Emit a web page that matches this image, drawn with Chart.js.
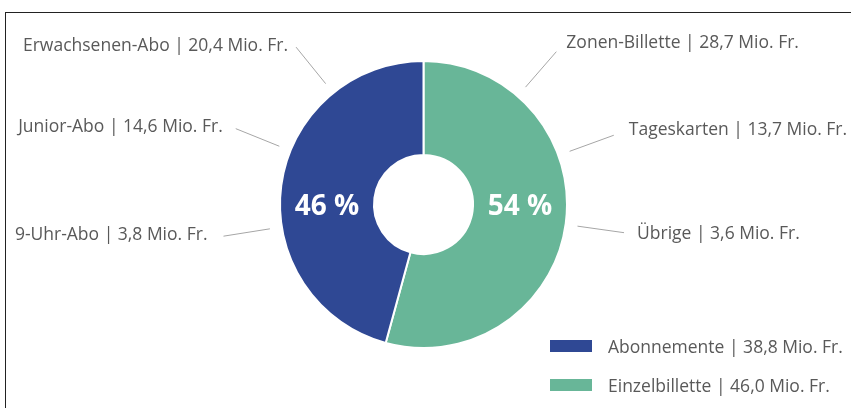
<!DOCTYPE html>
<html lang="de">
<head>
<meta charset="UTF-8">
<title>Einnahmen</title>
<script src="https://cdn.jsdelivr.net/npm/chart.js"></script>
<style>
  body { margin: 0; background: #fff; font-family: "Open Sans", sans-serif; }
  #wrap { position: relative; width: 851px; height: 408px; overflow: hidden; }
  #frame { position: absolute; left: 5px; top: 12px; width: 900px; height: 500px; border: 1.5px solid #222; box-sizing: border-box; }
  canvas { position: absolute; left: 0; top: 0; }
  .leg { position: absolute; left: 550px; font-size: 17.5px; line-height: 24px; color: #595959; white-space: nowrap; }
  .leg span.sw { position: absolute; left: 0; top: 4px; width: 42px; height: 12px; }
  .leg span.tx { position: absolute; left: 58px; top: -2px; }
</style>
</head>
<body>
<div id="wrap">
  <div id="frame"></div>
  <canvas id="c" width="851" height="408"></canvas>
  <div id="legend"></div>
</div>
<script>
// ring: Einzelbillette first so it starts at 12 o'clock
const ringLabels = ['Einzelbillette', 'Abonnemente'];
const ringValues = [46.0, 38.8];
const ringColors = ['#68b698', '#2f4894'];

// sub-items annotated around the ring
const subLabels = ['Zonen-Billette', 'Tageskarten', 'Übrige', 'Erwachsenen-Abo', 'Junior-Abo', '9-Uhr-Abo'];
const subValues = [28.7, 13.7, 3.6, 20.4, 14.6, 3.8];

// legend order
const legendOrder = [1, 0];

function fmt(v) {
  return v.toFixed(1).replace('.', ',') + ' Mio. Fr.';
}

const total = ringValues.reduce((a, b) => a + b, 0);

// where the callouts sit (angle clockwise from top, text nudge)
const callouts = [
  { angle: 41, dx: 10, dy: -9 },
  { angle: 70, dx: 15, dy: -5 },
  { angle: 98, dx: 13, dy: 1 },
  { angle: 321, dx: -8, dy: -1 },
  { angle: 292, dx: -13, dy: -2 },
  { angle: 261, dx: -16, dy: -1 }
];

const ringText = {
  id: 'ringText',
  afterDraw(chart) {
    const ctx = chart.ctx;
    const arc = chart.getDatasetMeta(0).data[0];
    const cx = arc.x, cy = arc.y;
    const R = arc.outerRadius, r = arc.innerRadius;
    const mid = (R + r) / 2;

    ctx.save();
    // percentages inside the ring
    ctx.fillStyle = '#fff';
    ctx.font = 'bold 28px "Open Sans"';
    ctx.textAlign = 'center';
    ctx.textBaseline = 'middle';
    ringValues.forEach((v, i) => {
      const meta = chart.getDatasetMeta(0).data[i];
      const a = (meta.startAngle + meta.endAngle) / 2;
      const side = Math.cos(a) >= 0 ? 1 : -1;
      ctx.fillText(Math.round(v / total * 100) + ' %', cx + side * mid, cy + 3);
    });

    // callouts
    ctx.font = '17.5px "Open Sans"';
    ctx.strokeStyle = '#a6a6a6';
    ctx.lineWidth = 1;
    subLabels.forEach((lab, i) => {
      const c = callouts[i];
      const t = c.angle * Math.PI / 180;
      const sx = Math.sin(t), sy = -Math.cos(t);
      const x1 = cx + sx * (R + 12), y1 = cy + sy * (R + 12);
      const x2 = cx + sx * (R + 59), y2 = cy + sy * (R + 59);
      ctx.beginPath();
      ctx.moveTo(x1, y1);
      ctx.lineTo(x2, y2);
      ctx.stroke();
      ctx.fillStyle = '#595959';
      ctx.textAlign = sx >= 0 ? 'left' : 'right';
      ctx.fillText(lab + ' | ' + fmt(subValues[i]), x2 + c.dx, y2 + c.dy);
    });
    ctx.restore();
  }
};

new Chart(document.getElementById('c'), {
  type: 'doughnut',
  data: {
    labels: ringLabels,
    datasets: [{
      data: ringValues,
      backgroundColor: ringColors,
      borderColor: '#fff',
      borderWidth: 2
    }]
  },
  options: {
    responsive: false,
    animation: false,
    cutout: '34.5%',
    layout: { padding: { top: 60, bottom: 59, left: 140, right: 144 } },
    plugins: {
      legend: { display: false },
      tooltip: { enabled: false }
    }
  },
  plugins: [ringText]
});

// legend (bottom right)
const legendEl = document.getElementById('legend');
legendOrder.forEach((idx, row) => {
  const d = document.createElement('div');
  d.className = 'leg';
  d.style.top = (336 + row * 39) + 'px';
  d.innerHTML = '<span class="sw" style="background:' + ringColors[idx] + '"></span>' +
    '<span class="tx">' + ringLabels[idx] + ' | ' + fmt(ringValues[idx]) + '</span>';
  legendEl.appendChild(d);
});
</script>
</body>
</html>
